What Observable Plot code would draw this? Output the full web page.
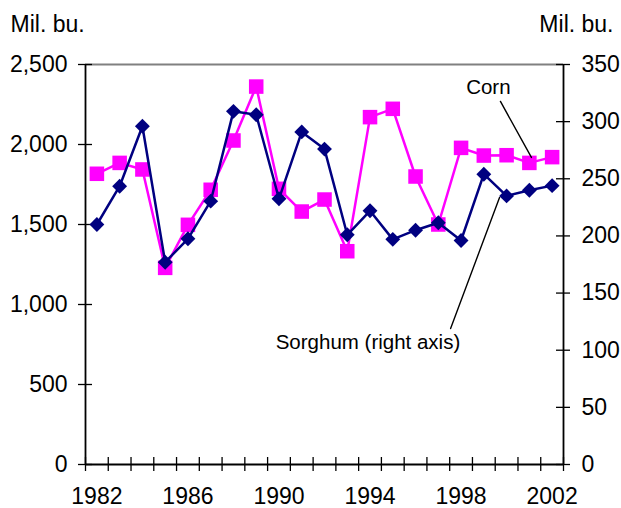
<!DOCTYPE html>
<html>
<head>
<meta charset="utf-8">
<script src="https://cdn.jsdelivr.net/npm/d3@7"></script>
<script src="https://cdn.jsdelivr.net/npm/@observablehq/plot@0.6"></script>
<style>
  html, body { margin: 0; padding: 0; background: #fff; }
</style>
</head>
<body>
<div id="chart"></div>
<script>
const years = [1982,1983,1984,1985,1986,1987,1988,1989,1990,1991,1992,1993,1994,1995,1996,1997,1998,1999,2000,2001,2002];
const corn = [1817,1885,1844,1229,1498,1717,2025,2362,1723,1581,1656,1333,2171,2223,1800,1500,1979,1931,1933,1885,1921];
const sorghum = [210,243.5,296,177,197.5,230.4,309,306,232.5,291,276,201,222,197,205,211.5,196,254,235,240,244];
const leftTicks = [0,500,1000,1500,2000,2500];
const rightTicks = [0,50,100,150,200,250,300,350];
const xLabels = [1982,1986,1990,1994,1998,2002];
const unitLabel = "Mil. bu.";
const cornLabel = ["Corn"];
const sorghumLabel = ["Sorghum (right axis)"];
// annotation anchor points in data space (year, left-axis value)
const cornText = {year: 1999.2, value: 2356};
const cornLeader = [{year: 1999.73, value: 2269}, {year: 2001.09, value: 1919}];
const sorghumText = {year: 1993.91, value: 762};
const sorghumLeader = [{year: 1997.54, value: 850}, {year: 1999.69, value: 1669}];

const leftMax = 2500, rightMax = 350;
const k = leftMax / rightMax;
const xMin = years[0] - 0.5, xMax = years[years.length - 1] + 0.5;
const xTickPos = years.map(y => y - 0.5).concat([xMax]);

const cornData = years.map((y, i) => ({year: y, value: corn[i]}));
const sorgData = years.map((y, i) => ({year: y, value: sorghum[i] * k}));

const chart = Plot.plot({
  width: 621,
  height: 508,
  marginLeft: 85,
  marginRight: 58,
  marginTop: 64,
  marginBottom: 44,
  style: {fontFamily: "'Liberation Sans', Arial, sans-serif", fontSize: "23px", background: "#fff", color: "#000", overflow: "visible"},
  x: {domain: [xMin, xMax]},
  y: {domain: [0, leftMax]},
  marks: [
    // top border
    Plot.ruleY([leftMax], {stroke: "#808080", strokeWidth: 2}),
    // axis lines
    Plot.ruleX([xMin], {stroke: "#000", strokeWidth: 1.8}),
    Plot.ruleX([xMax], {stroke: "#000", strokeWidth: 1.8}),
    Plot.ruleY([0], {stroke: "#000", strokeWidth: 1.8}),
    // crossing tick marks
    Plot.ruleY(leftTicks, {y: d => d, x1: xMin, x2: xMin, insetLeft: -7, insetRight: -7, stroke: "#000", strokeWidth: 1.3}),
    Plot.ruleY(rightTicks.map(v => v * k), {y: d => d, x1: xMax, x2: xMax, insetLeft: -7, insetRight: -7, stroke: "#000", strokeWidth: 1.3}),
    Plot.ruleX(xTickPos, {x: d => d, y1: 0, y2: 0, insetTop: -7, insetBottom: -7, stroke: "#000", strokeWidth: 1.3}),
    // axis labels
    Plot.axisY(leftTicks, {anchor: "left", tickSize: 0, tickPadding: 18, tickFormat: d3.format(","), label: null, fontSize: 23}),
    Plot.axisY(rightTicks.map(v => v * k), {anchor: "right", tickSize: 0, tickPadding: 18, tickFormat: d => String(Math.round(d / k)), label: null, fontSize: 23}),
    Plot.axisX(xLabels, {anchor: "bottom", tickSize: 0, tickPadding: 23, tickFormat: d => String(d), label: null, fontSize: 23}),
    // unit labels
    Plot.text([unitLabel], {frameAnchor: "top-left", dx: -75, dy: -49, textAnchor: "start", lineAnchor: "top", fontSize: 23}),
    Plot.text([unitLabel], {frameAnchor: "top-right", dx: 50, dy: -49, textAnchor: "end", lineAnchor: "top", fontSize: 23}),
    // series
    Plot.line(cornData, {x: "year", y: "value", stroke: "#FF00FF", strokeWidth: 2.5}),
    Plot.dot(cornData, {x: "year", y: "value", symbol: "square", fill: "#FF00FF", r: 8.2}),
    Plot.line(sorgData, {x: "year", y: "value", stroke: "#000080", strokeWidth: 2.5}),
    Plot.dot(sorgData, {x: "year", y: "value", symbol: "diamond2", fill: "#000080", r: 6.7}),
    // annotations
    Plot.line(cornLeader, {x: "year", y: "value", stroke: "#000", strokeWidth: 1.4}),
    Plot.line(sorghumLeader, {x: "year", y: "value", stroke: "#000", strokeWidth: 1.4}),
    Plot.text(cornLabel, {x: () => cornText.year, y: () => cornText.value, textAnchor: "middle", lineAnchor: "middle", fontSize: 20.5}),
    Plot.text(sorghumLabel, {x: () => sorghumText.year, y: () => sorghumText.value, textAnchor: "middle", lineAnchor: "middle", fontSize: 20.5})
  ]
});
document.getElementById("chart").appendChild(chart);
</script>
</body>
</html>
